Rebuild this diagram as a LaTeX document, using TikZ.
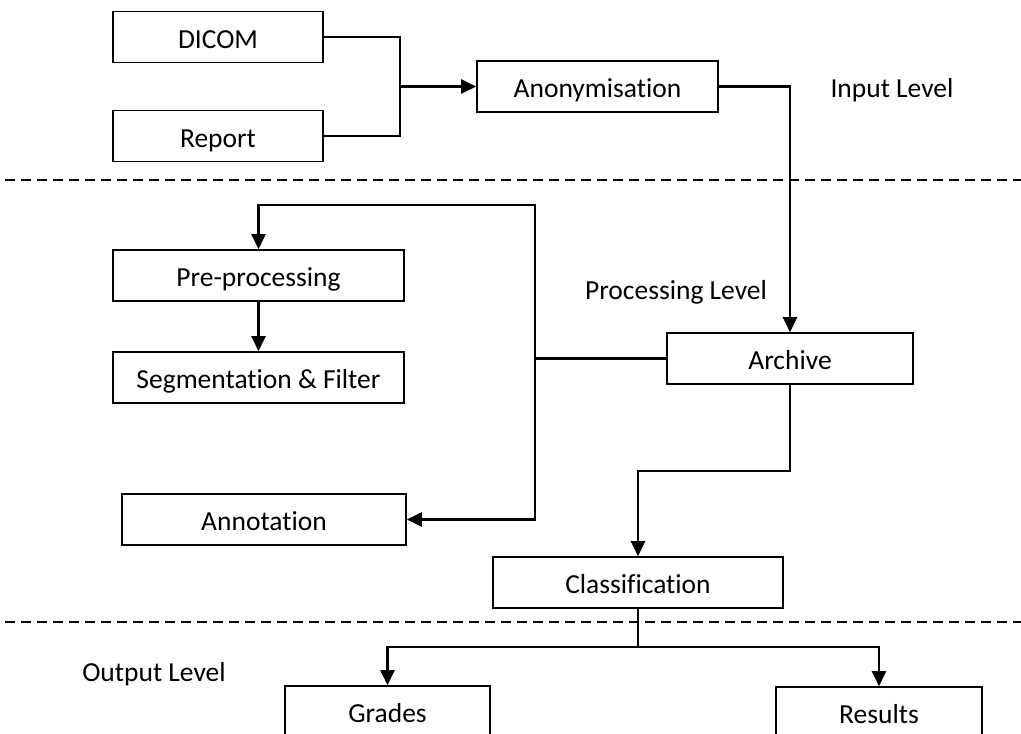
\documentclass[tikz,border=0pt]{standalone}
\usepackage{fontspec}
\setmainfont{Carlito}[RawFeature={-liga;-clig}]
\usetikzlibrary{arrows.meta}
\begin{document}
\begin{tikzpicture}[x=1pt,y=-1pt,
  box/.style={draw,line width=1.6pt,minimum height=51pt,inner sep=0pt,text height=22pt,text depth=0pt,font=\fontsize{27.5}{32}\selectfont},
  lbl/.style={font=\fontsize{27.5}{32}\selectfont,inner sep=0pt},
  conn/.style={line width=2.4pt},
  arr/.style={conn,-{Triangle[length=15pt,width=14pt]}},
  sep/.style={line width=1.5pt,dash pattern=on 10pt off 6pt}]
\clip (0,0) rectangle (1021,734);
\fill[white] (0,0) rectangle (1021,734);
% separators
\draw[sep] (5,180) -- (1021,180);
\draw[sep] (5,622) -- (1021,622);
% boxes
\node[box,minimum width=210pt] (dicom) at (218,37) {DICOM};
\node[box,minimum width=210pt] (report) at (218,136) {Report};
\node[box,minimum width=241pt] (anon) at (597.5,86.5) {Anonymisation};
\node[box,minimum width=246pt] (archive) at (790,358.5) {Archive};
\node[box,minimum width=291pt] (pre) at (258.5,275.5) {Pre-processing};
\node[box,minimum width=291pt] (seg) at (258.5,377.5) {Segmentation \& Filter};
\node[box,minimum width=284pt] (annot) at (264,519.5) {Annotation};
\node[box,minimum width=290pt] (class) at (638,582.5) {Classification};
\node[box,minimum width=205pt] (grades) at (387.5,711.5) {Grades};
\node[box,minimum width=206pt] (results) at (879,712.5) {Results};
% labels
\node[lbl] (inlvl) at (892,90) {Input Level};
\node[lbl] (prlvl) at (676,292) {Processing Level};
\node[lbl] (outlvl) at (154,674) {Output Level};
% coordinates
\coordinate (j) at (400,86.5);
\coordinate (b1) at (535,358.5);
\coordinate (t) at (535,205);
\coordinate (m) at (638,471);
\coordinate (o) at (638,647);
% connectors
\draw[conn] (dicom.east) -| (j);
\draw[conn] (report.east) -| (j);
\draw[arr] (j) -- (anon.west);
\draw[arr] (anon.east) -| (archive.north);
\draw[conn] (archive.west) -- (b1);
\draw[arr] (b1) -- (t) -| (pre.north);
\draw[arr] (b1) |- (annot.east);
\draw[arr] (pre.south) -- (seg.north);
\draw[arr] (archive.south) |- (m) -- (class.north);
\draw[conn] (class.south) -- (o);
\draw[arr] (o) -| (grades.north);
\draw[arr] (o) -| (results.north);
\end{tikzpicture}
\end{document}
